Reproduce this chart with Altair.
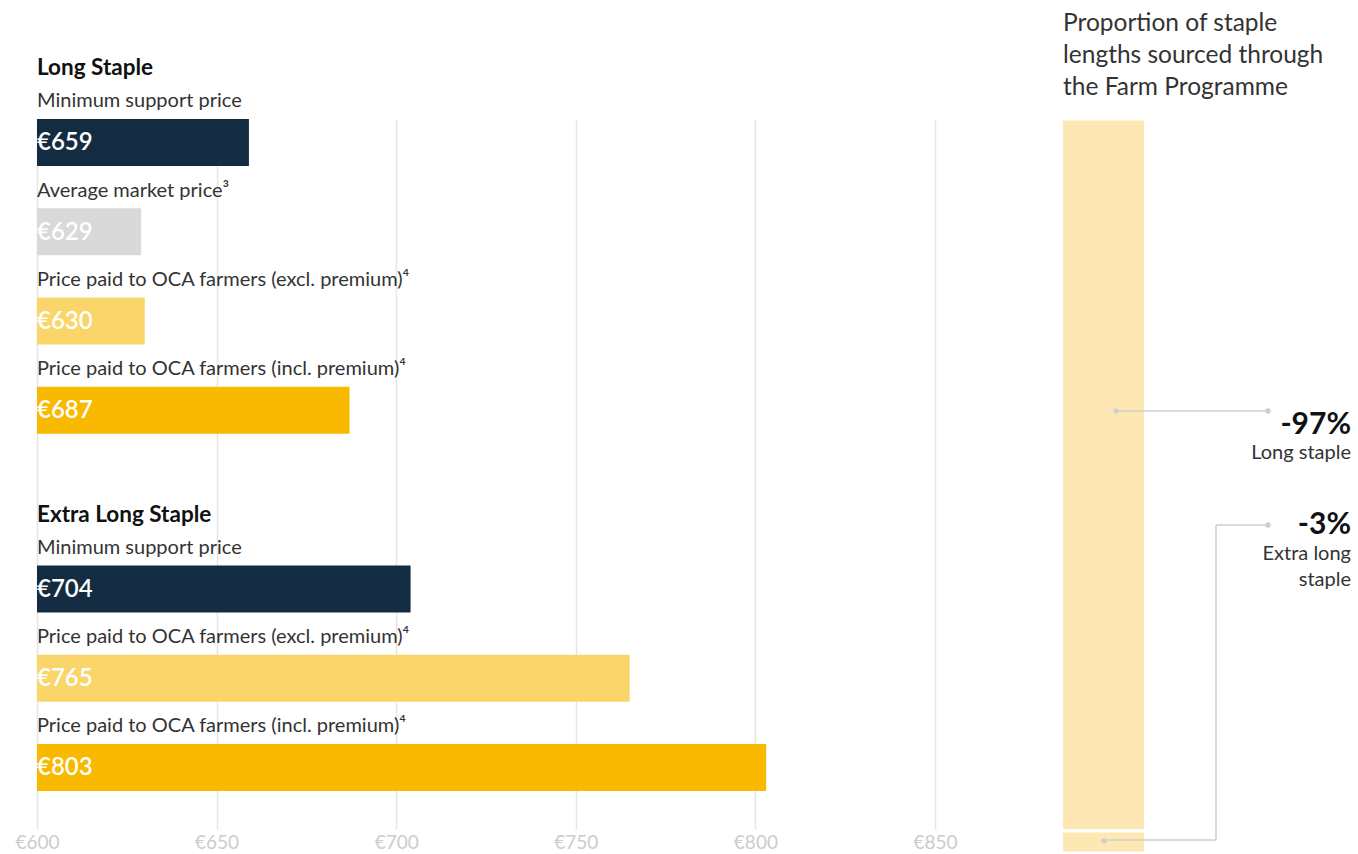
import altair as alt
import pandas as pd

# ---- data ----
groups = ["Long Staple"] * 4 + ["Extra Long Staple"] * 3
labels = [
    "Minimum support price",
    "Average market price³",
    "Price paid to OCA farmers (excl. premium)⁴",
    "Price paid to OCA farmers (incl. premium)⁴",
    "Minimum support price",
    "Price paid to OCA farmers (excl. premium)⁴",
    "Price paid to OCA farmers (incl. premium)⁴",
]
kinds = ["msp", "market", "excl", "incl", "msp", "excl", "incl"]
values = [659, 629, 630, 687, 704, 765, 803]
headers = ["Long Staple", "Extra Long Staple"]

kind_names = ["msp", "market", "excl", "incl"]
kind_colors = ["#142c41", "#d9d9d9", "#fad66a", "#f8b900"]

staples = ["Long staple", "Extra long staple"]
shares = [97, 3]
share_labels = ["-97%", "-3%"]
tick_values = [600, 650, 700, 750, 800, 850]

FONT = "Lato"

# ---- table ----
slots = [f"{g}|{l}" for g, l in zip(groups, labels)]
slot_domain = slots[:4] + ["gap"] + slots[4:]
df = pd.DataFrame({
    "slot": slots, "group": groups, "label": labels,
    "kind": kinds, "value": values,
    "text": [f"€{v}" for v in values],
})
hdr = pd.DataFrame({"slot": [slots[0], slots[4]], "header": headers})

yenc = alt.Y("slot:N", sort=slot_domain,
             scale=alt.Scale(domain=slot_domain, paddingInner=0.474,
                             paddingOuter=0.213, align=0),
             axis=None)
xscale = alt.Scale(domain=[600, 850], nice=False, zero=False)

bars = alt.Chart(df).mark_bar().encode(
    x=alt.X("value:Q", scale=xscale,
            axis=alt.Axis(values=tick_values, title=None, domain=False,
                          ticks=False, grid=True, gridColor="#e6e6e6",
                          gridWidth=1.5, labelFlush=False,
                          labelColor="#cccccc", labelFontSize=19,
                          labelFont=FONT, labelPadding=4,
                          labelExpr="'€' + datum.value")),
    x2=alt.datum(600),
    y=yenc,
    color=alt.Color("kind:N", scale=alt.Scale(domain=kind_names, range=kind_colors),
                    legend=None),
)

vals = alt.Chart(df).mark_text(align="left", baseline="middle", color="white",
                               fontSize=24, font=FONT, fontWeight=600, dx=0, dy=1).encode(
    x=alt.datum(600, scale=xscale), y=yenc, text="text:N")

labs = alt.Chart(df).mark_text(align="left", baseline="middle", color="#333333",
                               fontSize=20, font=FONT, dy=-41).encode(
    x=alt.datum(600, scale=xscale), y=yenc, text="label:N")

heads = alt.Chart(hdr).mark_text(align="left", baseline="middle", color="#111111",
                                 fontSize=22.5, font=FONT, fontWeight="bold",
                                 dy=-74).encode(
    x=alt.datum(600, scale=xscale), y=yenc, text="header:N")

left = alt.layer(bars, vals, labs, heads).properties(width=898, height=710)

# ---- right panel ----
ends = pd.Series(shares[::-1]).cumsum().tolist()[::-1]
rdf = pd.DataFrame({"staple": staples, "share": shares,
                    "end": ends, "start": [e - s for e, s in zip(ends, shares)],
                    "pct": share_labels})

rbar = alt.Chart(rdf).mark_bar(color="#fde8b3", stroke="white", strokeWidth=3).encode(
    x=alt.value(-1.5), x2=alt.value(82.5),
    y=alt.Y("end:Q", scale=alt.Scale(domain=[0, 100], nice=False), axis=None),
    y2="start:Q",
)

LINE = "#cfcfcf"
seg = pd.DataFrame({"x": [53, 153, 153, 41], "x2": [205, 205, 153, 153],
                    "y": [292, 406, 406, 721], "y2": [292, 406, 721, 721]})
lines = alt.Chart(seg).mark_rule(color=LINE, strokeWidth=1.5).encode(
    x=alt.X("x:Q", scale=None), x2="x2:Q",
    y=alt.Y("y:Q", scale=None), y2="y2:Q")

dots_df = pd.DataFrame({"x": [53, 205, 205, 41], "y": [292, 292, 406, 722]})
dots = alt.Chart(dots_df).mark_circle(color=LINE, size=30, opacity=1).encode(
    x=alt.X("x:Q", scale=None), y=alt.Y("y:Q", scale=None))

ann_df = pd.DataFrame({"pct": share_labels, "name": ["Long staple", "Extra long\nstaple"],
                       "y": [306, 406], "yn": [334, 435]})
pct_t = alt.Chart(ann_df).mark_text(align="right", baseline="middle", fontSize=30,
                                    font=FONT, fontWeight="bold", color="#111111").encode(
    x=alt.value(288), y=alt.Y("y:Q", scale=None), text="pct:N")
name_t = alt.Chart(ann_df).mark_text(align="right", baseline="middle", fontSize=20,
                                     font=FONT, color="#333333", lineBreak="\n",
                                     lineHeight=26).encode(
    x=alt.value(288), y=alt.Y("yn:Q", scale=None), text="name:N")

right = alt.layer(rbar, lines, dots, pct_t, name_t).properties(
    width=81, height=734,
    title=alt.TitleParams(
        ["Proportion of staple", "lengths sourced through", "the Farm Programme"],
        anchor="start", fontSize=24.5, lineHeight=32, color="#333333",
        font=FONT, fontWeight="normal", offset=17, dx=3),
)

chart = alt.hconcat(left, right, spacing=128, bounds="flush").properties(
    padding={"left": 14, "top": 11, "right": 5, "bottom": 0}
).configure_view(stroke=None)

chart.save("out.html", embed_options={"renderer": "svg", "actions": False})
